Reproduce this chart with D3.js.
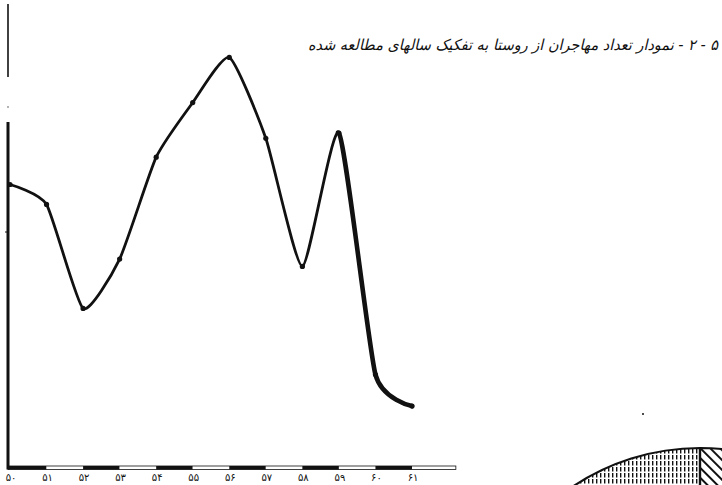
<!DOCTYPE html>
<html>
<head>
<meta charset="utf-8">
<script src="https://cdn.jsdelivr.net/npm/d3@7"></script>
<style>
  html, body { margin: 0; padding: 0; background: #fff; }
  svg { display: block; }
</style>
</head>
<body>
<svg id="chart" width="722" height="485"></svg>
<script>
// Migrants leaving the village, by study year (Solar Hijri 1350–1361)
const years = [1350, 1351, 1352, 1353, 1354, 1355, 1356, 1357, 1358, 1359, 1360, 1361];
const migrants = [27.0, 25.1, 15.2, 19.9, 29.6, 34.8, 39.1, 31.4, 19.2, 31.9, 8.9, 5.9];
const yearLabels = ["۵۰", "۵۱", "۵۲", "۵۳", "۵۴", "۵۵", "۵۶", "۵۷", "۵۸", "۵۹", "۶۰", "۶۱"];
const title = "۵ - ۲ - نمودار تعداد مهاجران از روستا به تفکیک سالهای مطالعه شده";

// Neighbouring pie figure (only its upper rim shows at the page edge)
const pieSlices = [
  { start: -1.25, end: 0.0, pattern: "vhatch" },
  { start: 0.0, end: 1.1, pattern: "dhatch" }
];

const svg = d3.select("#chart");
const ink = "#111";

const x = d3.scaleLinear().domain([1350, 1361]).range([10, 412]);
const y = d3.scaleLinear().domain([0, 40]).range([468, 48]);

// hatch patterns
const defs = svg.append("defs");
defs.append("pattern").attr("id", "vhatch").attr("patternUnits", "userSpaceOnUse")
  .attr("width", 4).attr("height", 6)
  .append("rect").attr("x", 0).attr("y", 0).attr("width", 1.4).attr("height", 4.5).attr("fill", ink);
const dh = defs.append("pattern").attr("id", "dhatch").attr("patternUnits", "userSpaceOnUse")
  .attr("width", 7).attr("height", 7).attr("patternTransform", "rotate(-45)");
dh.append("rect").attr("width", 2).attr("height", 7).attr("fill", ink);

// left axis (broken vertical rule)
const axisX = 8;
svg.append("line").attr("x1", axisX).attr("x2", axisX).attr("y1", 4).attr("y2", 77)
  .attr("stroke", ink).attr("stroke-width", 1.6);
svg.append("circle").attr("cx", axisX).attr("cy", 107).attr("r", 0.8).attr("fill", "#555");
svg.append("line").attr("x1", axisX).attr("x2", axisX).attr("y1", 122).attr("y2", y(0) + 1.5)
  .attr("stroke", ink).attr("stroke-width", 3);
svg.append("line").attr("x1", axisX - 3).attr("x2", axisX).attr("y1", 232).attr("y2", 232)
  .attr("stroke", ink).attr("stroke-width", 1);

// bottom axis drawn as an alternating scale bar, one band per year
const bandYears = d3.range(1350, 1362);
const bandEnd = 1362.2;
const barY = y(0) - 2;
svg.append("g").selectAll("rect").data(bandYears).join("rect")
  .attr("x", d => d === 1350 ? axisX : x(d))
  .attr("y", barY)
  .attr("width", d => x(Math.min(d + 1, bandEnd)) - (d === 1350 ? axisX : x(d)))
  .attr("height", 3.5)
  .attr("fill", (d, i) => i % 2 === 0 ? ink : "#fff");
svg.append("rect").attr("x", x(1362)).attr("y", barY)
  .attr("width", x(bandEnd) - x(1362)).attr("height", 3.5).attr("fill", "#fff");
svg.append("rect").attr("x", axisX).attr("y", barY)
  .attr("width", x(bandEnd) - axisX).attr("height", 3.5)
  .attr("fill", "none").attr("stroke", ink).attr("stroke-width", 0.8);

// year labels
svg.append("g").selectAll("text").data(years).join("text")
  .attr("x", d => x(d) + 1)
  .attr("y", 481)
  .attr("text-anchor", "middle")
  .attr("font-family", "DejaVu Sans, sans-serif")
  .attr("font-size", 10)
  .attr("fill", ink)
  .text((d, i) => yearLabels[i]);

// data line
const curve = d3.curveCardinal.tension(0.45);
const pts = years.map((d, i) => [x(d), y(migrants[i])]);
const line = d3.line().curve(curve);
svg.append("path").attr("d", line(pts))
  .attr("fill", "none").attr("stroke", ink).attr("stroke-width", 2.8)
  .attr("stroke-linejoin", "round").attr("stroke-linecap", "round");

// heavier pen on the final descent (1359 onward)
const tail = years.map((d, i) => ({ d, v: migrants[i] })).filter(p => p.d >= 1358);
const tailLine = d3.line().x(p => x(p.d)).y(p => y(p.v)).curve(curve);
const tailPath = svg.append("path").attr("d", tailLine(tail))
  .attr("fill", "none").attr("stroke", "none");
// draw only from the 1359 vertex onward
const tmp = tailPath.node();
const total = tmp.getTotalLength();
let startLen = 0;
for (let s = 0; s <= total; s += 0.5) {
  const p = tmp.getPointAtLength(s);
  if (p.x >= x(1359) - 1) { startLen = s; break; }
}
tailPath.attr("stroke", ink).attr("stroke-width", 4.6).attr("stroke-linecap", "round")
  .attr("stroke-dasharray", `0 ${startLen} ${total - startLen} 1`);

// vertex dots
svg.append("g").selectAll("circle").data(pts).join("circle")
  .attr("cx", d => d[0]).attr("cy", d => d[1]).attr("r", 2.6).attr("fill", ink);

// title
svg.append("text")
  .attr("x", 718).attr("y", 50)
  .attr("direction", "rtl")
  .attr("text-anchor", "start")
  .attr("font-family", "DejaVu Sans, sans-serif")
  .attr("font-style", "italic")
  .attr("font-size", 15)
  .attr("textLength", 410)
  .attr("lengthAdjust", "spacingAndGlyphs")
  .attr("fill", ink)
  .text(title);

// rim of the neighbouring pie chart
const pieG = svg.append("g").attr("transform", "translate(700,677)");
const arc = d3.arc().innerRadius(0).outerRadius(229);
pieG.selectAll("path").data(pieSlices).join("path")
  .attr("d", d => arc({ startAngle: d.start, endAngle: d.end }))
  .attr("fill", d => `url(#${d.pattern})`)
  .attr("stroke", ink).attr("stroke-width", 2.2);
svg.append("circle").attr("cx", 643).attr("cy", 414).attr("r", 1).attr("fill", ink);
</script>
</body>
</html>
